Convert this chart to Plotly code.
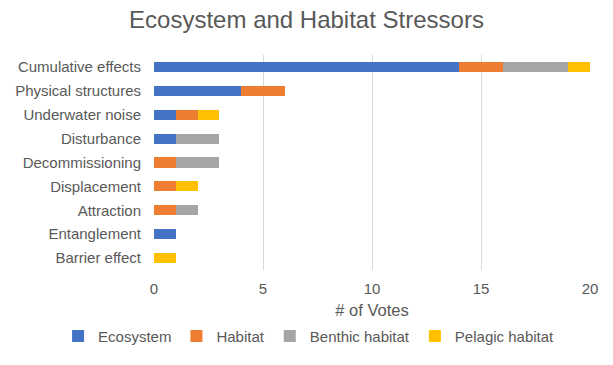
import plotly.graph_objects as go

categories = ["Cumulative effects", "Physical structures", "Underwater noise",
              "Disturbance", "Decommissioning", "Displacement", "Attraction",
              "Entanglement", "Barrier effect"]
ecosystem = [14, 4, 1, 1, 0, 0, 0, 1, 0]
habitat = [2, 2, 1, 0, 1, 1, 1, 0, 0]
benthic = [3, 0, 0, 2, 2, 0, 1, 0, 0]
pelagic = [1, 0, 1, 0, 0, 1, 0, 0, 1]

series = [
    ("Ecosystem", ecosystem, "#4472C4"),
    ("Habitat", habitat, "#ED7D31"),
    ("Benthic habitat", benthic, "#A5A5A5"),
    ("Pelagic habitat", pelagic, "#FFC000"),
]

fig = go.Figure()
for name, vals, color in series:
    fig.add_trace(go.Bar(y=categories, x=vals, name=name, orientation="h",
                         marker=dict(color=color, line=dict(width=0))))

font_color = "#595959"
fig.update_layout(
    barmode="stack",
    bargap=0.58,
    width=613, height=365,
    margin=dict(l=154, r=23, t=55, b=95),
    paper_bgcolor="white", plot_bgcolor="white",
    font=dict(family="Liberation Sans, Arial, sans-serif", size=15, color=font_color),
    title=dict(text="Ecosystem and Habitat Stressors", x=0.5, xanchor="center",
               y=0.945, yanchor="middle",
               font=dict(size=24, color=font_color)),
    xaxis=dict(range=[0, 20], dtick=5, showgrid=True, gridcolor="#D9D9D9",
               gridwidth=1, zeroline=False, showline=False, ticks="",
               ticklabelstandoff=8,
               title=dict(text="# of Votes", standoff=8, font=dict(size=16.5, color=font_color)),
               tickfont=dict(size=15, color=font_color)),
    yaxis=dict(autorange="reversed", showgrid=False, ticks="", showline=False,
               ticklabelstandoff=12, tickfont=dict(size=15, color=font_color)),
    legend=dict(orientation="h", x=-0.22, xanchor="left",
                y=-0.385, yanchor="bottom",
                font=dict(size=15, color=font_color), itemwidth=30,
                traceorder="normal"),
)

fig.write_html("out.html")
